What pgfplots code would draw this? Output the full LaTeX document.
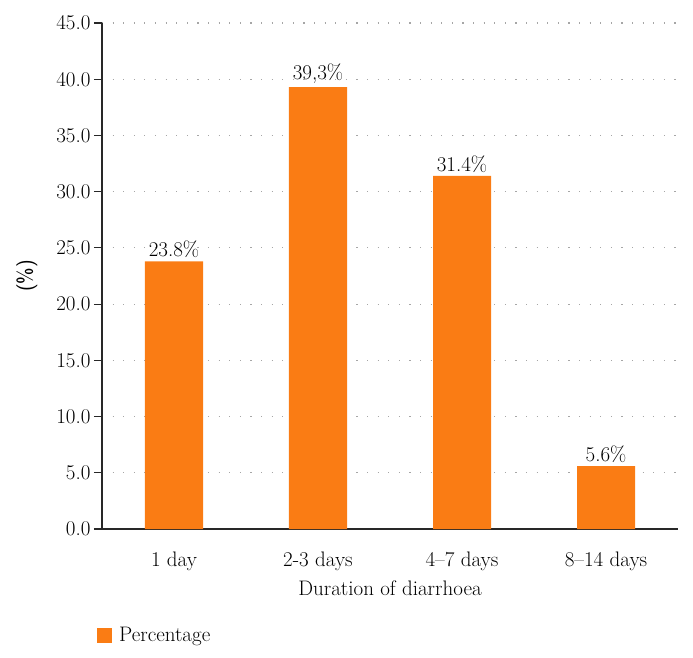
\documentclass[border=0pt]{standalone}
\usepackage{pgfplots}
\pgfplotsset{compat=1.18}
\definecolor{barorange}{RGB}{250,124,20}
\definecolor{axisgray}{RGB}{40,40,40}
\begin{document}
\begin{tikzpicture}[font=\fontsize{21}{25}\selectfont]
\begin{axis}[
  name=ax,
  scale only axis,
  width=576pt, height=506pt,
  xmin=-0.5, xmax=3.5,
  ymin=0, ymax=45,
  axis x line*=bottom, axis y line*=left,
  axis line style={axisgray, line width=1.2pt, -},
  xtick={0,1,2,3},
  xticklabels={1 day,2-3 days,4--7 days,8--14 days},
  x tick style={draw=none},
  minor xtick={-0.5,0.5,1.5,2.5,3.5},
  minor x tick style={axisgray, line width=1.2pt},
  minor tick length=8pt,
  ytick={0,5,...,45},
  y tick style={axisgray, line width=1.2pt},
  major tick length=8pt,
  tick align=outside,
  yticklabel style={/pgf/number format/fixed, /pgf/number format/fixed zerofill, /pgf/number format/precision=1, xshift=0pt},
  /pgf/number format/assume math mode=true,
  ymajorgrids,
  grid style={gray!70, line width=1.1pt, dash pattern=on 1.1pt off 9.5pt},
  xlabel={Duration of diarrhoea},
  ylabel={\sffamily (\%)},
  xlabel style={yshift=-4pt},
  ylabel style={yshift=12pt},
  xticklabel style={yshift=-11pt},
  nodes near coords,
  point meta=explicit symbolic,
  nodes near coords style={yshift=0pt},
  clip=false,
  legend style={at={(rel axis cs:0,0)}, anchor=north west, xshift=-8pt, yshift=-94pt, draw=none, fill=none,
    legend cell align=left, nodes={inner xsep=7pt}},
  legend image code/.code={\fill[barorange] (0pt,-7.5pt) rectangle (15pt,7.5pt);},
]
\addplot[ybar, bar width=58pt, fill=barorange, draw=none] coordinates {
  (0,23.8) [23.8\%]
  (1,39.3) [39,3\%]
  (2,31.4) [31.4\%]
  (3,5.6) [5.6\%]
};
\addlegendentry{Percentage}
\coordinate (O) at (rel axis cs:0,0);
\end{axis}
\path (O) ++(-102pt,-129pt) rectangle ++(693pt,658pt);
\end{tikzpicture}
\end{document}
